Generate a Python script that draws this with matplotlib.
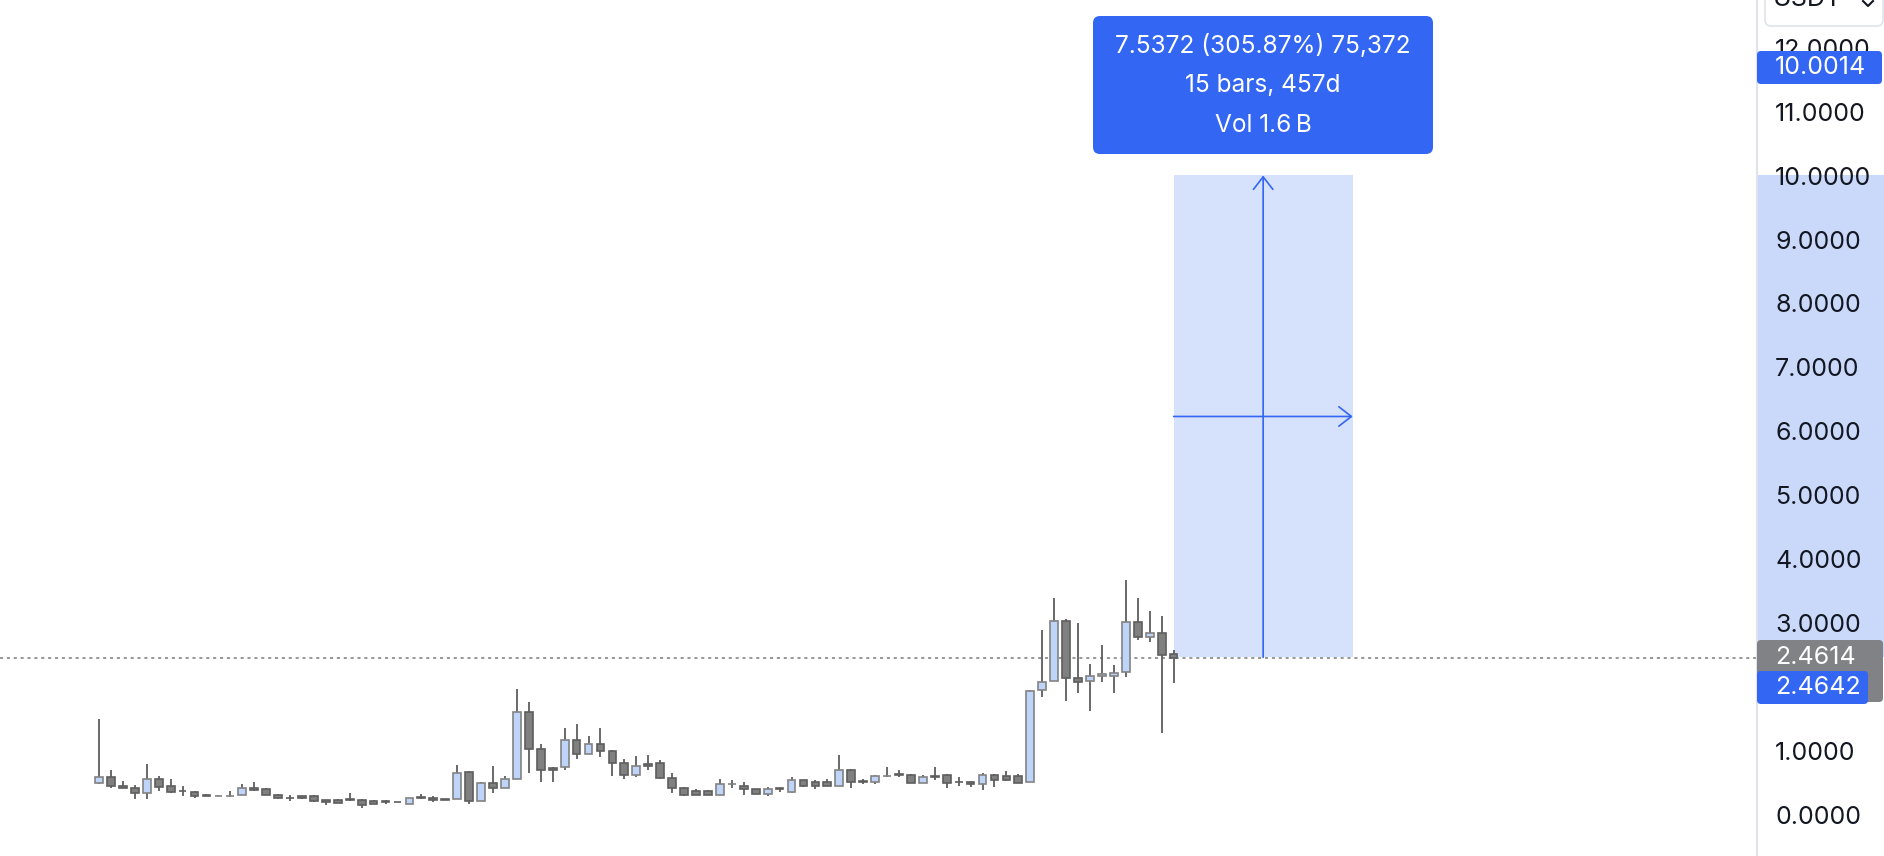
#!/usr/bin/env python3
"""
Monthly candles with a price-range measurement (TradingView style)
"""

import matplotlib.pyplot as plt
from matplotlib.patches import Rectangle, FancyBboxPatch
from matplotlib.lines import Line2D

plt.rcParams['font.family'] = ['Inter', 'DejaVu Sans']

# monthly OHLC
opens = [0.50, 0.60, 0.46, 0.43, 0.34, 0.57, 0.45, 0.38, 0.36, 0.31,
         0.30, 0.30, 0.31, 0.43, 0.41, 0.32, 0.27, 0.29, 0.29, 0.23,
         0.24, 0.25, 0.23, 0.22, 0.22, 0.21, 0.17, 0.28, 0.27, 0.25,
         0.25, 0.67, 0.22, 0.50, 0.42, 0.57, 1.61, 1.04, 0.74, 0.75,
         1.18, 0.95, 1.11, 1.00, 0.82, 0.63, 0.80, 0.81, 0.58, 0.42,
         0.37, 0.37, 0.32, 0.48, 0.46, 0.40, 0.33, 0.42, 0.36, 0.54,
         0.52, 0.52, 0.46, 0.70, 0.53, 0.52, 0.61, 0.64, 0.63, 0.50,
         0.61, 0.63, 0.52, 0.51, 0.48, 0.63, 0.61, 0.61, 0.52, 1.96,
         2.10, 3.04, 2.15, 2.10, 2.18, 2.17, 2.24, 3.02, 2.78, 2.84,
         2.52]
highs = [1.50, 0.70, 0.53, 0.47, 0.80, 0.61, 0.57, 0.45, 0.38, 0.33,
         0.31, 0.38, 0.48, 0.51, 0.42, 0.33, 0.32, 0.30, 0.31, 0.23,
         0.25, 0.34, 0.25, 0.23, 0.23, 0.21, 0.26, 0.33, 0.30, 0.25,
         0.78, 0.69, 0.52, 0.77, 0.61, 1.97, 1.77, 1.11, 0.75, 1.36,
         1.42, 1.24, 1.36, 1.02, 0.87, 0.92, 0.94, 0.86, 0.65, 0.44,
         0.40, 0.39, 0.56, 0.55, 0.52, 0.40, 0.44, 0.42, 0.59, 0.54,
         0.55, 0.56, 0.94, 0.72, 0.56, 0.63, 0.75, 0.70, 0.64, 0.63,
         0.75, 0.64, 0.60, 0.53, 0.65, 0.64, 0.69, 0.64, 1.96, 2.90,
         3.40, 3.07, 3.00, 2.36, 2.66, 2.35, 3.68, 3.39, 3.19, 3.11,
         2.58]
lows = [0.49, 0.43, 0.43, 0.25, 0.25, 0.38, 0.34, 0.29, 0.27, 0.30,
        0.30, 0.28, 0.31, 0.38, 0.31, 0.25, 0.22, 0.25, 0.20, 0.16,
        0.19, 0.22, 0.11, 0.17, 0.18, 0.20, 0.17, 0.25, 0.21, 0.24,
        0.25, 0.18, 0.22, 0.35, 0.42, 0.56, 0.66, 0.52, 0.52, 0.71,
        0.87, 0.95, 0.90, 0.61, 0.56, 0.60, 0.71, 0.56, 0.35, 0.30,
        0.32, 0.32, 0.32, 0.43, 0.31, 0.33, 0.30, 0.36, 0.34, 0.44,
        0.41, 0.45, 0.46, 0.43, 0.48, 0.48, 0.59, 0.59, 0.50, 0.50,
        0.55, 0.43, 0.46, 0.44, 0.39, 0.44, 0.53, 0.50, 0.52, 1.85,
        2.09, 1.79, 1.91, 1.62, 2.08, 1.91, 2.16, 2.74, 2.71, 1.28,
        2.07]
closes = [0.60, 0.46, 0.43, 0.34, 0.57, 0.44, 0.36, 0.37, 0.30, 0.30,
          0.30, 0.30, 0.43, 0.39, 0.32, 0.26, 0.26, 0.26, 0.22, 0.20,
          0.19, 0.24, 0.16, 0.17, 0.21, 0.20, 0.26, 0.27, 0.23, 0.24,
          0.66, 0.22, 0.50, 0.42, 0.57, 1.61, 1.04, 0.70, 0.70, 1.18,
          0.95, 1.11, 1.00, 0.82, 0.63, 0.77, 0.77, 0.58, 0.42, 0.32,
          0.32, 0.32, 0.48, 0.49, 0.40, 0.33, 0.40, 0.40, 0.54, 0.46,
          0.46, 0.45, 0.70, 0.51, 0.52, 0.61, 0.61, 0.63, 0.50, 0.59,
          0.60, 0.50, 0.51, 0.48, 0.63, 0.55, 0.55, 0.50, 1.94, 2.08,
          3.04, 2.15, 2.08, 2.18, 2.20, 2.22, 3.02, 2.78, 2.84, 2.51,
          2.4614]

last_price = 2.4614
start_price = 2.4642
target_price = 10.0014
measure_bars = 15
tooltip_lines = ['7.5372 (305.87%) 75,372', '15 bars, 457d', 'Vol 1.6\u2009B']
y_ticks = list(range(13))

BLUE = '#3366F2'
UP_FILL, UP_EDGE = '#BED4F8', '#838383'
DOWN_FILL, DOWN_EDGE = '#808080', '#5E5E5E'
WICK = '#5E5E5E'
TXT = '#131722'
FS = 18

W, H = 1884, 856
fig = plt.figure(figsize=(W / 100, H / 100), dpi=100)
ax = fig.add_axes([0, 0, 1757 / W, 1])

# candles
x = list(range(len(opens)))
up = [c >= o for o, c in zip(opens, closes)]
ax.vlines(x, lows, highs, color=WICK, lw=1.3, zorder=3)
ax.bar(x, [c - o for o, c in zip(opens, closes)], bottom=opens, width=0.65,
       color=[UP_FILL if u else DOWN_FILL for u in up],
       edgecolor=[UP_EDGE if u else DOWN_EDGE for u in up],
       linewidth=1.2, zorder=4)

# measurement box
last_i = len(opens) - 1
ax.add_patch(Rectangle((last_i, start_price), measure_bars, target_price - start_price,
                       fc='#D6E1FC', ec='none', zorder=1))
xm = last_i + measure_bars / 2
ym = (start_price + target_price) / 2
arrow = dict(arrowstyle='->,head_length=0.45,head_width=0.35', color=BLUE, lw=1.2,
             shrinkA=0, shrinkB=0, mutation_scale=20)
ax.annotate('', xy=(xm, target_price), xytext=(xm, start_price), arrowprops=arrow, zorder=5)
ax.annotate('', xy=(last_i + measure_bars, ym), xytext=(last_i, ym), arrowprops=arrow, zorder=5)

# last price line
ax.axhline(last_price, color='#7A7A7A', lw=1.1, linestyle=(0, (2, 2.5)), zorder=2)

# shading on the price scale
ax.add_patch(Rectangle((1, start_price), (W - 1757) / 1757, target_price - start_price,
                       transform=ax.get_yaxis_transform(), clip_on=False,
                       fc='#CAD8F9', ec='none', zorder=1))

ax.set_xlim(-8.29, 138.86)
ax.set_ylim(-0.641, 12.746)
ax.yaxis.tick_right()
ax.set_yticks(y_ticks, [f'{v:.4f}' for v in y_ticks])
ax.tick_params(axis='y', length=0, pad=13, labelsize=FS, labelcolor=TXT)
ax.set_xticks([])
for s in ['top', 'left', 'bottom']:
    ax.spines[s].set_visible(False)
ax.spines['right'].set_color('#E0E3EB')
ax.spines['right'].set_linewidth(1.5)


def px_box(x0, y0, x1, y1, fc, r=4, ec='none', lw=0):
    p = FancyBboxPatch((x0 / W, 1 - y1 / H), (x1 - x0) / W, (y1 - y0) / H,
                       boxstyle=f'round,pad=0,rounding_size={r / W}', mutation_aspect=W / H,
                       fc=fc, ec=ec, lw=lw, transform=fig.transFigure)
    fig.add_artist(p)


def px_text(xp, yp, s, fs=FS, **kw):
    fig.text(xp / W, 1 - yp / H, s, va='center', fontsize=fs, **kw)


# labels on the price scale
px_box(1757, 640, 1883, 702, '#808285')
px_text(1775, 658, f'{last_price:.4f}', color='white')
px_box(1757, 671, 1868, 704, BLUE)
px_text(1775, 688, f'{start_price:.4f}', color='white')
px_box(1757, 51, 1882, 84, BLUE)
px_text(1775, 68, f'{target_price:.4f}', color='white')

# currency selector at the top
px_box(1765, -12, 1883, 26, 'white', r=6, ec='#E0E3EB', lw=1.2)
px_text(1773, 0, 'USDT', color=TXT)
fig.add_artist(Line2D([1863 / W, 1868 / W, 1873 / W], [1 - 1 / H, 1 - 6 / H, 1 - 1 / H],
                      color=TXT, lw=1.5, transform=fig.transFigure))

# tooltip
px_box(1093, 16, 1433, 154, BLUE, r=7)
for yp, line in zip([46, 86, 126], tooltip_lines):
    px_text(1263, yp, line, fs=17.6, color='white', ha='center')

plt.savefig('out.png', dpi=100)
